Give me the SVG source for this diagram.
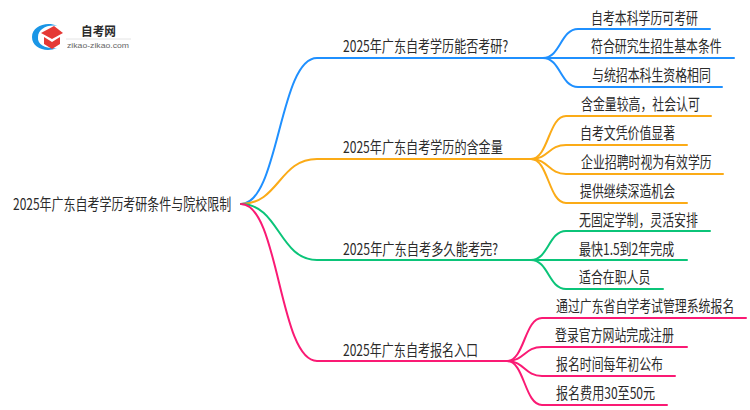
<svg xmlns="http://www.w3.org/2000/svg" width="750" height="410" viewBox="0 0 750 410">
<style>
text{font-family:"Noto Sans CJK SC","Liberation Sans",sans-serif;font-size:15.500px;fill:#2b2b2b}
.c{fill:none;stroke-width:2;stroke-linecap:round}
.b{stroke:#1f90ff}.o{stroke:#fbab17}.g{stroke:#0bc479}.p{stroke:#fa1a74}
</style>
<rect width="750" height="410" fill="#fff"/>
<g id="logo">
<path d="M57 26C47 21 32 26 32 37C32 48 46 53 57 48C48 49 37 46 38 37C38 29 48 24 57 26Z" fill="#1a96e6"/>
<path d="M41 33L54 26L63 33L52 39Z" fill="#e53935"/>
<path d="M44 37L52 42L60 37V44L52 49L44 44Z" fill="#e53935"/>
<text x="81" y="36" style="font-size:12.500px;font-weight:700" textLength="35" lengthAdjust="spacingAndGlyphs">自考网</text>
<path d="M66 39H131" stroke="#e4e4e4"/>
<text x="67" y="48" style="font-size:8px;fill:#666;font-family:'Liberation Sans',sans-serif" textLength="62" lengthAdjust="spacingAndGlyphs">zikao-zikao.com</text>
</g>
<g id="connectors">
<path class="c b" d="M241 204C279 204 279 58 317 58H543"/>
<path class="c o" d="M241 204C279 204 279 159 317 159H531"/>
<path class="c g" d="M241 204C279 204 279 260 317 260H531"/>
<path class="c p" d="M241 204C279 204 279 361 317 361H507"/>
<path class="c b" d="M543 58C560.500 58 560.500 29 578 29H710"/>
<path class="c b" d="M543 58H734"/>
<path class="c b" d="M543 58C560.500 58 560.500 87 578 87H722"/>
<path class="c o" d="M531 159C548.500 159 548.500 116 566 116H711"/>
<path class="c o" d="M531 159C548.500 159 548.500 145 566 145H687"/>
<path class="c o" d="M531 159C548.500 159 548.500 174 566 174H723"/>
<path class="c o" d="M531 159C548.500 159 548.500 203 566 203H687"/>
<path class="c g" d="M531 260C548.500 260 548.500 231 566 231H710"/>
<path class="c g" d="M531 260H687"/>
<path class="c g" d="M531 260C548.500 260 548.500 289 566 289H663"/>
<path class="c p" d="M507 361C524.500 361 524.500 318 542 318H746"/>
<path class="c p" d="M507 361C524.500 361 524.500 347 542 347H687"/>
<path class="c p" d="M507 361C524.500 361 524.500 376 542 376H675"/>
<path class="c p" d="M507 361C524.500 361 524.500 405 542 405H667"/>
</g>
<g id="root"><text transform="translate(13 210) scale(.768 1)" textLength="284" lengthAdjust="spacingAndGlyphs">2025年广东自考学历考研条件与院校限制</text></g>
<g id="n1"><text transform="translate(343 52) scale(.768 1)" textLength="215" lengthAdjust="spacingAndGlyphs">2025年广东自考学历能否考研?</text></g>
<g id="n1a"><text transform="translate(591 24) scale(.768 1)">自考本科学历可考研</text></g>
<g id="n1b"><text transform="translate(591 52) scale(.768 1)">符合研究生招生基本条件</text></g>
<g id="n1c"><text transform="translate(592 81) scale(.768 1)">与统招本科生资格相同</text></g>
<g id="n2"><text transform="translate(343 153) scale(.768 1)" textLength="208" lengthAdjust="spacingAndGlyphs">2025年广东自考学历的含金量</text></g>
<g id="n2a"><text transform="translate(581 110) scale(.768 1)">含金量较高，社会认可</text></g>
<g id="n2b"><text transform="translate(580 139) scale(.768 1)">自考文凭价值显著</text></g>
<g id="n2c"><text transform="translate(581 168) scale(.768 1)">企业招聘时视为有效学历</text></g>
<g id="n2d"><text transform="translate(580 197) scale(.768 1)">提供继续深造机会</text></g>
<g id="n3"><text transform="translate(343 255) scale(.768 1)" textLength="202" lengthAdjust="spacingAndGlyphs">2025年广东自考多久能考完?</text></g>
<g id="n3a"><text transform="translate(579 226) scale(.768 1)">无固定学制，灵活安排</text></g>
<g id="n3b"><text transform="translate(579 255) scale(.768 1)" textLength="124" lengthAdjust="spacingAndGlyphs">最快1.5到2年完成</text></g>
<g id="n3c"><text transform="translate(579 283) scale(.768 1)">适合在职人员</text></g>
<g id="n4"><text transform="translate(343 356) scale(.768 1)" textLength="176" lengthAdjust="spacingAndGlyphs">2025年广东自考报名入口</text></g>
<g id="n4a"><text transform="translate(556 312) scale(.768 1)">通过广东省自学考试管理系统报名</text></g>
<g id="n4b"><text transform="translate(555 341) scale(.768 1)">登录官方网站完成注册</text></g>
<g id="n4c"><text transform="translate(556 370) scale(.768 1)">报名时间每年初公布</text></g>
<g id="n4d"><text transform="translate(556 399) scale(.768 1)" textLength="129" lengthAdjust="spacingAndGlyphs">报名费用30至50元</text></g>
</svg>
